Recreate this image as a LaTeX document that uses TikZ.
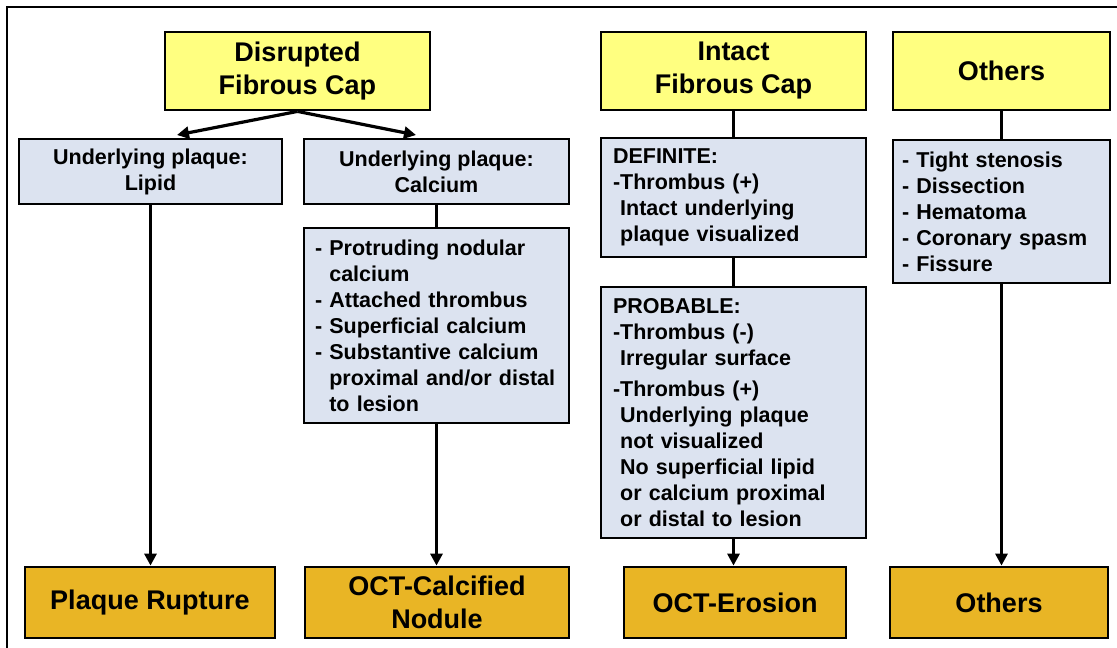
\documentclass[tikz,border=0pt]{standalone}
\usepackage{fontspec}
\setmainfont{Liberation Sans}
\usepackage{xcolor}
\usetikzlibrary{arrows.meta}

\definecolor{gelb}{RGB}{255,255,128}
\definecolor{hblau}{RGB}{220,227,240}
\definecolor{gold}{RGB}{233,181,37}

\tikzset{
	kasten/.style={draw=black, line width=2.8pt, inner sep=0pt, font=\bfseries\fontsize{21.5}{26}\selectfont},
	kopf/.style={kasten, fill=gelb, align=center, font=\bfseries\fontsize{27}{33}\selectfont},
	info/.style={kasten, fill=hblau},
	liste/.style={info, align=left, execute at begin node={\hyphenpenalty=10000}},
	ende/.style={kasten, fill=gold, align=center, font=\bfseries\fontsize{27}{33}\selectfont},
	linie/.style={line width=3.2pt},
	pfeil/.style={linie, -{Triangle[length=12pt,width=12pt]}}
}

\begin{document}
\begin{tikzpicture}[x=1pt,y=-1pt]
		\useasboundingbox (0,0) rectangle (1117,648);

		% Rahmen
		\draw[line width=1.8pt] (7,648) -- (7,7) -- (1117,7);

		% Obere Kästen
		\node[kopf, minimum width=265, minimum height=78] (dfc) at (297.5,71) {Disrupted\\Fibrous Cap};
		\node[kopf, minimum width=265, minimum height=78] (ifc) at (733.5,71) {Intact\\Fibrous Cap};
		\node[kopf, minimum width=217, minimum height=78] (othk) at (1001.5,71) {Others};

		% Mittlere Kästen
		\node[info, align=center, minimum width=263, minimum height=65] (lip) at (150.5,171.5) {Underlying plaque:\\Lipid};
		\node[info, align=center, minimum width=265, minimum height=65] (cal) at (436.5,171.5) {Underlying plaque:\\Calcium};
		\node[liste, inner xsep=11pt, text width=243, minimum height=195] (call) at (436.5,325.5) {%
			- Protruding nodular\\
			\phantom{- }calcium\\
			- Attached thrombus\\
			- Superficial calcium\\
			- Substantive calcium\\
			\phantom{- }proximal and/or distal\\
			\phantom{- }to lesion};
		\node[liste, inner xsep=12pt, text width=241, minimum height=119] (def) at (733.5,197.5) {%
			DEFINITE:\\
			-Thrombus (+)\\
			\phantom{-}Intact underlying\\
			\phantom{-}plaque visualized};
		\node[liste, inner xsep=12pt, text width=241, minimum height=251] (prob) at (733.5,412.5) {%
			PROBABLE:\\
			-Thrombus (-)\\
			\phantom{-}Irregular surface\\[5pt]
			-Thrombus (+)\\
			\phantom{-}Underlying plaque\\
			\phantom{-}not visualized\\
			\phantom{-}No superficial lipid\\
			\phantom{-}or calcium proximal\\
			\phantom{-}or distal to lesion};
		\node[liste, inner xsep=9pt, text width=199, minimum height=143] (othl) at (1001.5,211.5) {%
			- Tight stenosis\\
			- Dissection\\
			- Hematoma\\
			- Coronary spasm\\
			- Fissure};

		% Untere Kästen
		\node[ende, minimum width=250, minimum height=71] (rup) at (150,602.5) {Plaque Rupture};
		\node[ende, minimum width=264, minimum height=71] (nod) at (437,602.5) {OCT-Calcified\\Nodule};
		\node[ende, minimum width=222, minimum height=71] (ero) at (735,602.5) {OCT-Erosion};
		\node[ende, minimum width=218, minimum height=71] (othe) at (999,602.5) {Others};

		% Pfeilspitzen der Gabel
		\coordinate (tl) at (177,135);
		\coordinate (tr) at (416,135);

		% Linien
		\draw[pfeil] (dfc.south) -- (tl);
		\draw[pfeil] (dfc.south) -- (tr);
		\draw[pfeil] (lip.south) -- (lip.south |- rup.north);
		\draw[linie] (cal.south) -- (call.north);
		\draw[pfeil] (call.south) -- (call.south |- nod.north);
		\draw[linie] (ifc.south) -- (def.north);
		\draw[linie] (def.south) -- (prob.north);
		\draw[pfeil] (prob.south) -- (prob.south |- ero.north);
		\draw[linie] (othk.south) -- (othl.north);
		\draw[pfeil] (othl.south) -- (othl.south |- othe.north);
	\end{tikzpicture}
\end{document}
